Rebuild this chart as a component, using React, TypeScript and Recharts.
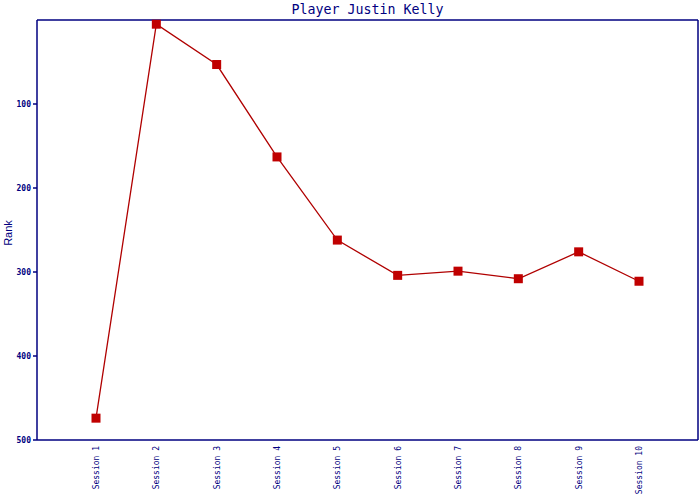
import React from "react";
import { LineChart, Line, XAxis, YAxis } from "recharts";

const sessions = ["Session 1", "Session 2", "Session 3", "Session 4", "Session 5", "Session 6", "Session 7", "Session 8", "Session 9", "Session 10"];
const ranks = [474, 5, 53, 163, 262, 304, 299, 308, 276, 311];
const rankTicks = [100, 200, 300, 400, 500];

const data = sessions.map((s, i) => ({ session: s, rank: ranks[i] }));

const NAVY = "#000080";
const MONO = "'DejaVu Sans Mono', monospace";

const SquareDot = (props: any) => {
  const { cx, cy } = props;
  if (cx == null || cy == null) return null;
  return <rect x={cx - 4.5} y={cy - 4.5} width={9} height={9} fill="#c00000" />;
};

const SessionTick = (props: any) => {
  const { x, y, payload } = props;
  return (
    <text
      x={0}
      y={0}
      transform={`translate(${x + 3},${y - 2}) rotate(-90)`}
      textAnchor="end"
      fontFamily={MONO}
      fontSize={8}
      fill={NAVY}
    >
      {payload.value}
    </text>
  );
};

const RankLabel = (props: any) => {
  const vb = props.viewBox || { x: 0, y: 20, width: 37, height: 420 };
  const cy = vb.y + vb.height / 2;
  return (
    <text
      x={0}
      y={0}
      transform={`translate(12,${cy + 3}) rotate(-90)`}
      textAnchor="middle"
      fontFamily="'Liberation Sans', Arial, sans-serif"
      fontSize={11}
      fill={NAVY}
    >
      Rank
    </text>
  );
};

export default function App() {
  return (
    <div style={{ position: "absolute", left: 0, top: 0, width: 700, height: 500, background: "#fff" }}>
      <div
        style={{
          position: "absolute", left: 37, top: 0, width: 661, textAlign: "center",
          fontFamily: MONO, fontSize: 13.3, lineHeight: "19px", color: NAVY
        }}
      >
        Player Justin Kelly
      </div>
      <LineChart width={700} height={500} data={data} margin={{ top: 19, right: 1, bottom: 0, left: 0 }}>
        <XAxis
          dataKey="session"
          padding={{ left: 59, right: 59 }}
          height={60}
          tickLine={false}
          axisLine={{ stroke: NAVY, strokeWidth: 1.5 }}
          tick={<SessionTick />}
          interval={0}
        />
        <XAxis
          xAxisId="top"
          dataKey="session"
          orientation="top"
          height={1}
          tick={false}
          tickLine={false}
          axisLine={{ stroke: NAVY, strokeWidth: 1.5 }}
        />
        <YAxis
          domain={[0, 500]}
          reversed
          ticks={rankTicks}
          width={37}
          tickSize={4}
          tickLine={{ stroke: NAVY, strokeWidth: 1.5 }}
          axisLine={{ stroke: NAVY, strokeWidth: 1.5 }}
          tick={{ fill: NAVY, fontFamily: MONO, fontSize: 8, fontWeight: "bold" }}
          tickMargin={2}
          label={{ content: <RankLabel /> }}
        />
        <YAxis
          yAxisId="right"
          orientation="right"
          width={1}
          tick={false}
          tickLine={false}
          axisLine={{ stroke: NAVY, strokeWidth: 1.5 }}
        />
        <Line
          type="linear"
          dataKey="rank"
          stroke="#b00000"
          strokeWidth={1.3}
          dot={<SquareDot />}
          activeDot={false}
          isAnimationActive={false}
        />
      </LineChart>
    </div>
  );
}
